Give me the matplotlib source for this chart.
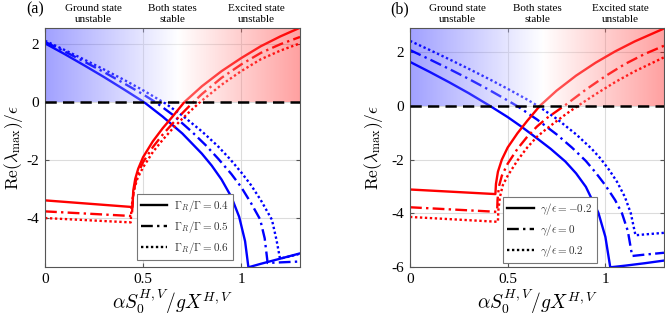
import numpy as np
import matplotlib
matplotlib.use('Agg')
from matplotlib import pyplot as plt
from matplotlib.lines import Line2D

plt.rcParams['font.family'] = 'Liberation Serif'
plt.rcParams['mathtext.fontset'] = 'cm'
plt.rcParams['axes.unicode_minus'] = False

# ---- panel (a): Gamma_R/Gamma = 0.4, 0.5, 0.6 ----
a_blue1_x = [0, 0.1, 0.2, 0.3, 0.4, 0.505, 0.6, 0.7, 0.8, 0.85, 0.9, 0.95, 0.99, 1.02, 1.037, 1.1, 1.2, 1.3]
a_blue1_y = [2.03, 1.66, 1.27, 0.87, 0.45, 0.0, -0.5, -1.08, -1.78, -2.19, -2.67, -3.27, -3.96, -4.8, -5.7, -5.58, -5.4, -5.22]
a_blue2_x = [0, 0.1, 0.2, 0.3, 0.4, 0.5, 0.57, 0.65, 0.75, 0.82, 0.884, 0.95, 1.0, 1.05, 1.097, 1.12, 1.135, 1.2, 1.3]
a_blue2_y = [2.08, 1.75, 1.4, 1.04, 0.66, 0.27, -0.03, -0.43, -1.03, -1.49, -1.96, -2.48, -2.93, -3.48, -4.05, -4.7, -5.55, -5.53, -5.5]
a_blue3_x = [0, 0.1, 0.2, 0.3, 0.4, 0.5, 0.615, 0.7, 0.8, 0.88, 0.944, 1.0, 1.05, 1.1, 1.157, 1.18, 1.198, 1.25, 1.3]
a_blue3_y = [2.12, 1.8, 1.47, 1.13, 0.78, 0.41, -0.05, -0.46, -1.01, -1.51, -1.97, -2.42, -2.86, -3.38, -4.06, -4.75, -5.4, -5.32, -5.23]
a_red1_x = [0, 0.446, 0.45, 0.46, 0.475, 0.5, 0.55, 0.6, 0.65, 0.71, 0.8, 0.9, 1.0, 1.1, 1.2, 1.3]
a_red1_y = [-3.39, -3.62, -3.05, -2.65, -2.3, -1.9, -1.35, -0.9, -0.5, 0.0, 0.55, 1.07, 1.52, 1.93, 2.27, 2.57]
a_red2_x = [0, 0.443, 0.446, 0.452, 0.462, 0.477, 0.5, 0.55, 0.6, 0.65, 0.7, 0.75, 0.8, 0.9, 1.0, 1.1, 1.2, 1.3]
a_red2_y = [-3.77, -3.93, -3.55, -3.1, -2.75, -2.42, -2.07, -1.55, -1.12, -0.74, -0.38, -0.04, 0.28, 0.84, 1.3, 1.7, 2.0, 2.25]
a_red3_x = [0, 0.437, 0.44, 0.447, 0.457, 0.472, 0.5, 0.55, 0.6, 0.65, 0.7, 0.75, 0.79, 0.9, 1.0, 1.1, 1.2, 1.3]
a_red3_y = [-4.0, -4.15, -3.75, -3.3, -2.95, -2.62, -2.25, -1.72, -1.3, -0.92, -0.57, -0.25, 0.0, 0.6, 1.07, 1.48, 1.78, 2.03]
a_labels = [r'$\Gamma_R/\Gamma=0.4$', r'$\Gamma_R/\Gamma=0.5$', r'$\Gamma_R/\Gamma=0.6$']

# ---- panel (b): gamma/epsilon = -0.2, 0, 0.2 ----
b_blue1_x = [0, 0.1, 0.2, 0.3, 0.408, 0.5, 0.573, 0.65, 0.72, 0.795, 0.85, 0.9, 0.964, 1.0, 1.025, 1.1, 1.2, 1.3]
b_blue1_y = [1.63, 1.26, 0.875, 0.47, 0.0, -0.42, -0.79, -1.21, -1.6, -2.07, -2.51, -3.01, -3.97, -4.87, -6.0, -5.94, -5.85, -5.75]
b_blue2_x = [0, 0.1, 0.2, 0.3, 0.4, 0.5, 0.553, 0.65, 0.75, 0.83, 0.9, 0.95, 1.0, 1.05, 1.085, 1.115, 1.137, 1.2, 1.3]
b_blue2_y = [2.07, 1.725, 1.37, 1.0, 0.61, 0.195, -0.03, -0.51, -1.06, -1.56, -2.05, -2.48, -2.955, -3.505, -3.995, -4.655, -5.58, -5.53, -5.46]
b_blue3_x = [0, 0.1, 0.2, 0.3, 0.4, 0.5, 0.6, 0.66, 0.75, 0.85, 0.93, 0.975, 1.02, 1.06, 1.1, 1.13, 1.154, 1.2, 1.3]
b_blue3_y = [2.41, 2.075, 1.73, 1.375, 1.01, 0.63, 0.23, -0.03, -0.48, -1.06, -1.6, -1.96, -2.39, -2.83, -3.39, -3.99, -4.81, -4.78, -4.72]
b_red1_x = [0, 0.437, 0.44, 0.45, 0.47, 0.5, 0.55, 0.6, 0.665, 0.75, 0.85, 0.95, 1.05, 1.15, 1.3]
b_red1_y = [-3.11, -3.28, -2.9, -2.45, -2.0, -1.55, -1.02, -0.56, 0.0, 0.56, 1.12, 1.6, 2.02, 2.39, 2.87]
b_red2_x = [0, 0.446, 0.448, 0.455, 0.47, 0.5, 0.55, 0.6, 0.65, 0.7, 0.79, 0.9, 1.0, 1.1, 1.2, 1.3]
b_red2_y = [-3.77, -3.94, -3.5, -3.0, -2.6, -2.15, -1.6, -1.15, -0.77, -0.46, 0.0, 0.6, 1.1, 1.55, 1.92, 2.23]
b_red3_x = [0, 0.45, 0.452, 0.46, 0.475, 0.5, 0.55, 0.6, 0.65, 0.7, 0.75, 0.8, 0.86, 0.95, 1.05, 1.15, 1.3]
b_red3_y = [-4.13, -4.31, -3.9, -3.4, -2.95, -2.6, -2.03, -1.55, -1.15, -0.85, -0.57, -0.3, 0.0, 0.43, 0.88, 1.28, 1.8]
b_labels = [r'$\gamma/\epsilon=-0.2$', r'$\gamma/\epsilon=0$', r'$\gamma/\epsilon=0.2$']

region_text = ['Ground state\nunstable', 'Both states\nstable', 'Excited state\nunstable']
region_x = [0.245, 0.65, 1.077]
x_ticks = [0, 0.5, 1]
x_ticklabels = ['0', '0.5', '1']

styles = ['-', (0, (5, 1.8, 1, 1.8)), (0, (1, 1.1))]
xmax = 1.3
white_at = 0.68


def gradient():
    # blue -> white -> red, semi transparent overlay above y=0
    t = np.linspace(0, xmax, 400)
    rgba = np.ones((1, len(t), 4))
    left = t < white_at
    f = t[left] / white_at
    rgba[0, left, 0] = f
    rgba[0, left, 1] = f
    rgba[0, ~left, 1] = 1 - (t[~left] - white_at) / (xmax - white_at)
    rgba[0, ~left, 2] = rgba[0, ~left, 1]
    rgba[0, :, 3] = 0.37
    return rgba


def panel(ax, blues, reds, ylim, yticks, labels, tag, leg_pos, ylab_x):
    for (x, y), ls in zip(blues, styles):
        ax.plot(x, y, color='#0000ff', ls=ls, lw=1.7, zorder=2)
    for (x, y), ls in zip(reds, styles):
        ax.plot(x, y, color='#ff0000', ls=ls, lw=1.7, zorder=2)
    ax.imshow(gradient(), extent=[0, xmax, 0, ylim[1]], aspect='auto',
              interpolation='bilinear', zorder=2.5)
    ax.axhline(0, color='black', lw=1.8, dashes=(4.5, 2.5), zorder=4)
    ax.set_xlim(0, xmax)
    ax.set_ylim(*ylim)
    ax.set_xticks(x_ticks)
    ax.set_xticklabels(x_ticklabels)
    ax.set_yticks(yticks)
    ax.set_yticklabels([str(v) for v in yticks])
    ax.tick_params(direction='in', length=3, labelsize=11, color='#555555',
                   top=True, right=True, pad=4)
    ax.grid(True, color='#dcdcdc', lw=0.8)
    ax.set_axisbelow(True)
    for s in ax.spines.values():
        s.set_color('#555555')
        s.set_linewidth(0.8)
    ax.set_xlabel(r'$\alpha S_0^{H,V}/gX^{H,V}$', fontsize=14, labelpad=1)
    ax.set_ylabel(r'$\mathrm{Re}(\lambda_{\max})/\epsilon$', fontsize=12.5)
    ax.yaxis.set_label_coords(ylab_x, 0.5)
    for txt, xc in zip(region_text, region_x):
        ax.text(xc, 1.057, txt, transform=ax.get_xaxis_transform(), ha='center',
                va='center', fontsize=8, linespacing=1.3)
    ax.text(-0.04, 1.075, tag, transform=ax.transAxes, ha='center', va='center',
            fontsize=11.5)
    handles = [Line2D([], [], color='black', ls=ls, lw=1.7) for ls in styles]
    leg = ax.legend(handles, labels, loc='lower left', bbox_to_anchor=leg_pos,
                    fontsize=8, fancybox=False, framealpha=1, edgecolor='#777777',
                    borderaxespad=0, labelspacing=0.45, handlelength=2.4,
                    handletextpad=0.6, borderpad=0.35)
    leg.get_frame().set_linewidth(0.8)
    leg.set_zorder(5)
    for t in leg.get_texts():
        t.set_color('#333333')


fig = plt.figure(figsize=(6.65, 3.2), dpi=100)
ax1 = fig.add_axes([45 / 665, 1 - 267.3 / 320, 255 / 665, 239.6 / 320])
ax2 = fig.add_axes([410 / 665, 1 - 267.3 / 320, 254 / 665, 239.6 / 320])

panel(ax1,
      [(a_blue1_x, a_blue1_y), (a_blue2_x, a_blue2_y), (a_blue3_x, a_blue3_y)],
      [(a_red1_x, a_red1_y), (a_red2_x, a_red2_y), (a_red3_x, a_red3_y)],
      (-5.7, 2.57), [-4, -2, 0, 2], a_labels, '(a)', (0.36, 0.03), -0.08)
panel(ax2,
      [(b_blue1_x, b_blue1_y), (b_blue2_x, b_blue2_y), (b_blue3_x, b_blue3_y)],
      [(b_red1_x, b_red1_y), (b_red2_x, b_red2_y), (b_red3_x, b_red3_y)],
      (-6, 2.9), [-6, -4, -2, 0, 2], b_labels, '(b)', (0.366, 0.018), -0.1)

fig.savefig('out.png', dpi=100)
